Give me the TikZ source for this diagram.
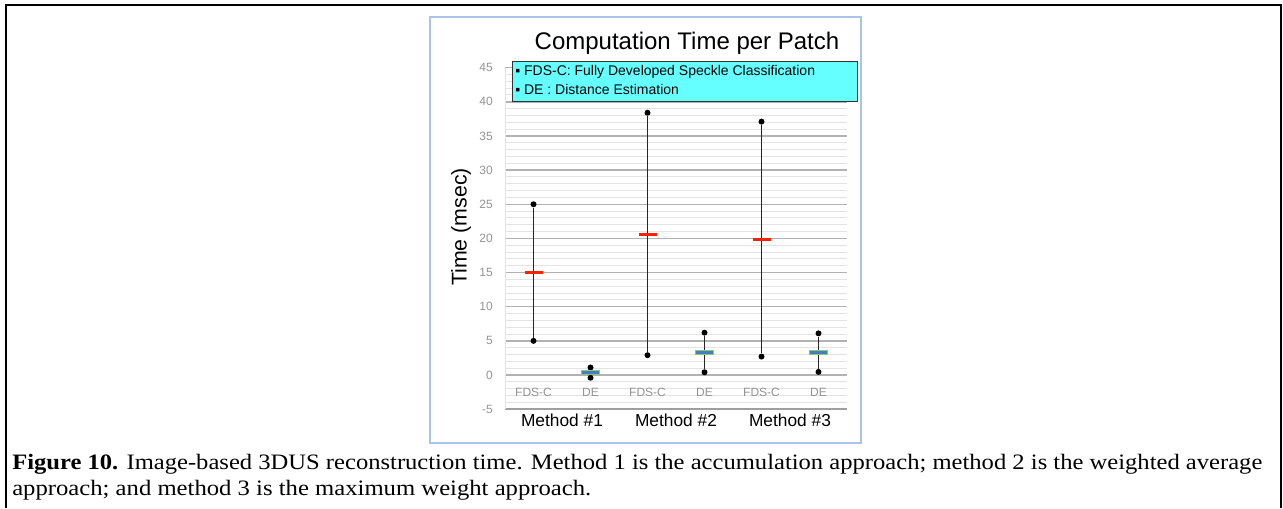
\documentclass[tikz,border=0pt]{standalone}
\usepackage{fontspec}
\setmainfont{Liberation Serif}
\setsansfont{Liberation Sans}
\usepackage{graphicx}

\definecolor{framecolor}{HTML}{A9C4EB}
\definecolor{legendcyan}{HTML}{66FFFF}
\definecolor{meanred}{HTML}{FF2000}
\definecolor{meanblue}{HTML}{4A7EBB}

\begin{document}
\begin{tikzpicture}
		[x=0.75pt,y=-0.75pt,
		%Styles
		minor grid/.style={gray!22,line width=0.75pt},
		major grid/.style={gray!60,line width=1.1pt},
		axis line/.style={gray!75,line width=1.5pt},
		tick label/.style={font=\sffamily\fontsize{9}{10}\selectfont,text=gray!85,anchor=east,inner sep=0pt},
		cat label/.style={font=\sffamily\fontsize{9}{10}\selectfont,text=gray!85,inner sep=0pt},
		method label/.style={font=\sffamily\fontsize{13}{15}\selectfont,inner sep=0pt},
		dot/.style={circle,fill=black,inner sep=0pt,minimum size=4.5pt},
		bar/.style={line width=1.3pt,black!85},
		fds mean/.style={rectangle,fill=meanred,inner sep=0pt,minimum width=13.5pt,minimum height=2.6pt},
		de mean/.style={rectangle,fill=meanblue,draw=green!40!gray!70,line width=0.15pt,inner sep=0pt,minimum width=13.5pt,minimum height=3pt},
		information text/.style={draw=black!80,fill=legendcyan,line width=0.6pt,minimum width=258.75pt,minimum height=30pt,inner sep=0pt}
		]
		
		\useasboundingbox (0,0) rectangle (1283,508);
		
		%Frames
		\draw[line width=1.5pt] (6,508) -- (6,5) -- (1281,5) -- (1281,508);
		\draw[framecolor,line width=1.5pt] (430,17) rectangle (861,443);
		
		%Title
		\node[font=\sffamily\fontsize{18}{20}\selectfont] (title) at (687,43) {Computation Time per Patch};
		\node[font=\sffamily\fontsize{16}{18}\selectfont,rotate=90] (ytitle) at (461,227) {Time (msec)};
		
		%The graphic
		\begin{scope}[shift={(505,375)},x=42.75pt,y=5.1225pt]
			\foreach \v in {-4,...,45}
				\draw[minor grid] (0,\v) -- (6,\v);
			\foreach \v in {0,5,...,45}
				\draw[major grid] (0,\v) -- (6,\v);
			\draw[axis line] (0,-5) -- (6,-5);
			\draw[minor grid] (0,-5) -- (0,45);
			\foreach \v in {-5,0,...,45}
				\node[tick label] at (-0.21,\v) {\v};
			
			\node[cat label] (c1) at (0.5,-2.6) {FDS-C};
			\node[cat label] (c2) at (1.5,-2.6) {DE};
			\node[cat label] (c3) at (2.5,-2.6) {FDS-C};
			\node[cat label] (c4) at (3.5,-2.6) {DE};
			\node[cat label] (c5) at (4.5,-2.6) {FDS-C};
			\node[cat label] (c6) at (5.5,-2.6) {DE};
			
			\node[method label] (m1) at (1,-6.7) {Method \#1};
			\node[method label] (m2) at (3,-6.7) {Method \#2};
			\node[method label] (m3) at (5,-6.7) {Method \#3};
			
			% error bars
			\node[dot] (f1t) at (0.5,25) {};
			\node[dot] (f1b) at (0.5,5) {};
			\node[dot] (d1t) at (1.5,1.1) {};
			\node[dot] (d1b) at (1.5,-0.4) {};
			\node[dot] (f2t) at (2.5,38.4) {};
			\node[dot] (f2b) at (2.5,2.9) {};
			\node[dot] (d2t) at (3.5,6.2) {};
			\node[dot] (d2b) at (3.5,0.4) {};
			\node[dot] (f3t) at (4.5,37.1) {};
			\node[dot] (f3b) at (4.5,2.7) {};
			\node[dot] (d3t) at (5.5,6.1) {};
			\node[dot] (d3b) at (5.5,0.45) {};
			
			\path[bar]
				(f1t) edge (f1b)
				(d1t) edge (d1b)
				(f2t) edge (f2b)
				(d2t) edge (d2b)
				(f3t) edge (f3b)
				(d3t) edge (d3b);
			
			\node[fds mean] (f1m) at (0.5,15) {};
			\node[de mean] (d1m) at (1.5,0.4) {};
			\node[fds mean] (f2m) at (2.5,20.6) {};
			\node[de mean] (d2m) at (3.5,3.4) {};
			\node[fds mean] (f3m) at (4.5,19.85) {};
			\node[de mean] (d3m) at (5.5,3.3) {};
		\end{scope}
		
		%Legend
		\node[information text] (legend) at (684.5,81) {};
		\node[font=\sffamily\fontsize{10.5}{12}\selectfont,anchor=west,inner sep=0pt] (leg1) at (515,72) {▪ FDS-C: Fully Developed Speckle Classification};
		\node[font=\sffamily\fontsize{10.5}{12}\selectfont,anchor=west,inner sep=0pt] (leg2) at (515,89) {▪ DE : Distance Estimation};
		
		%Caption
		\node[anchor=base west,inner sep=0pt,font=\fontsize{16.5}{19}\selectfont] (cap1) at (12,469)
			{\resizebox{937.5pt}{\height}{\textbf{Figure 10.} Image-based 3DUS reconstruction time. Method 1 is the accumulation approach; method 2 is the weighted average}};
		\node[anchor=base west,inner sep=0pt,font=\fontsize{16.5}{19}\selectfont] (cap2) at (12,495)
			{\resizebox{434.25pt}{\height}{approach; and method 3 is the maximum weight approach.}};
\end{tikzpicture}
\end{document}
